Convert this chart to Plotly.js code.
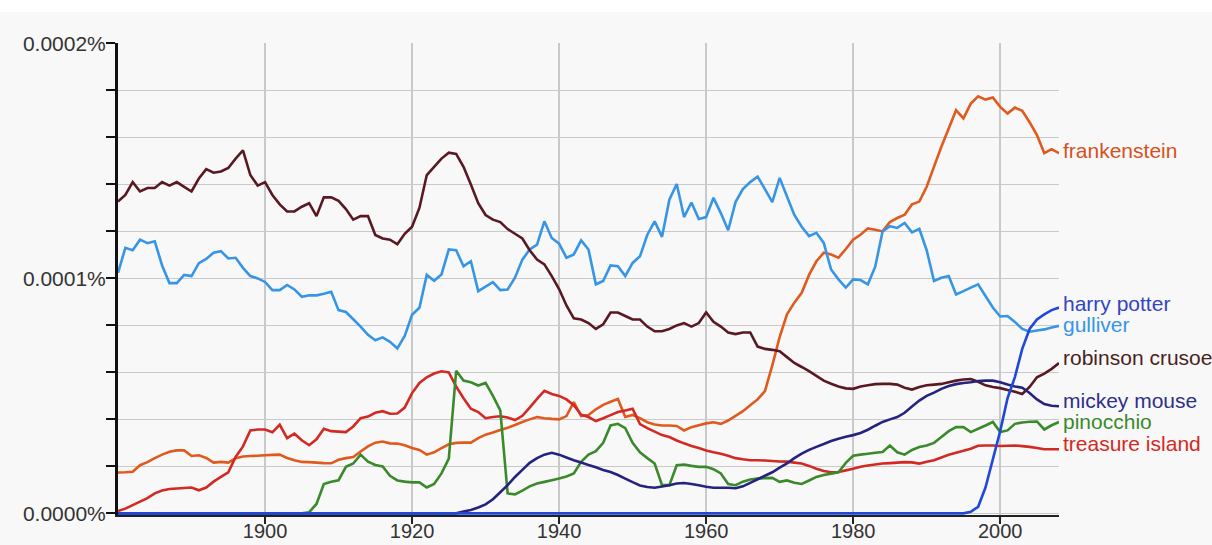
<!DOCTYPE html>
<html>
<head>
<meta charset="utf-8">
<script src="https://cdn.plot.ly/plotly-3.0.1.min.js"></script>
<style>
  html, body { margin: 0; padding: 0; background: #ffffff; }
  #chart { position: absolute; left: 0; top: 12px; width: 1212px; height: 533px; }
</style>
</head>
<body>
<div id="chart"></div>
<script>
// Values are in units of 0.000001 % (so 100 = 0.0001%, 200 = 0.0002%)
const startYear = 1880;
const years = Array.from({length: 129}, (_, i) => startYear + i);

const yTickVals = [0, 20, 40, 60, 80, 100, 120, 140, 160, 180, 200];
const yTickText = ['0.0000%', '', '', '', '', '0.0001%', '', '', '', '', '0.0002%'];
const xTickVals = [1900, 1920, 1940, 1960, 1980, 2000];

const frankenstein = [
  17.4,17.5,17.7,20.5,21.8,23.5,25,26.2,26.8,26.8,
  24.4,24.7,23.6,21.6,21.9,21.6,23.5,24.2,24.4,24.5,
  24.7,24.9,25,23.6,22.6,21.9,21.8,21.6,21.4,21.3,
  22.8,23.5,24,26.3,28.5,30.1,30.6,29.8,29.7,29,
  27.8,27,25,26,27.8,29.4,30,30.1,30.1,32,
  33.5,34.4,35.5,36.4,37.6,38.9,40,41,40.5,40.2,
  40,41.4,47.3,41.4,41.9,44.3,46.2,47.5,48.7,41,
  41.9,40.5,38.8,37.8,37.4,37.4,37.2,35.3,36.7,37.5,
  38.3,38.8,38.1,39.5,41.5,43.5,46,48.5,52,63,
  75,84.7,89.7,93.9,101.5,107.3,110.9,110.2,108.8,112.5,
  116.5,118.6,121.3,120.7,120,124,125.7,127.1,131.5,132.7,
  139,147.6,156,163.8,171.6,168.1,174.4,177.5,176.1,177,
  173,170.2,172.7,171.3,166.5,161,153.3,155,153.3
];

const harryPotter = [
  0,0,0,0,0,0,0,0,0,0, 0,0,0,0,0,0,0,0,0,0,
  0,0,0,0,0,0,0,0,0,0, 0,0,0,0,0,0,0,0,0,0,
  0,0,0,0,0,0,0,0,0,0, 0,0,0,0,0,0,0,0,0,0,
  0,0,0,0,0,0,0,0,0,0, 0,0,0,0,0,0,0,0,0,0,
  0,0,0,0,0,0,0,0,0,0, 0,0,0,0,0,0,0,0,0,0,
  0,0,0,0,0,0,0,0,0,0, 0,0,0,0,0,0,0.7,2.8,11,23,
  35,49,58,70,78.5,82.5,84.7,86.5,87.6
];

const gulliver = [
  102.4,113,112,116.5,115,115.8,105.5,98,98,101.5,
  101,106.5,108.3,110.9,111.6,108.5,108.8,104.5,101,100,
  98.5,95,95,97.2,95.3,92.2,92.8,92.8,93.5,94.3,
  86.5,85.7,82.6,79.5,76,73.7,74.9,73,70.2,75.5,
  84.5,87.5,101.5,99,101.7,112.3,112,105.2,107.3,94.6,
  96.5,98.4,95,95.3,100.3,108,112.3,114.4,124.3,117.2,
  114.8,108.8,110.2,116.2,112.3,97.5,98.9,105.5,105.2,101,
  106.6,109.4,118.6,124.3,117.7,133.5,140.2,126.1,132.3,125.3,
  126.1,134.3,127.8,120.5,132.5,138,141,143.3,138,132.5,
  142.8,134.9,127,122,118,119.4,115.1,103.8,99.6,96.1,
  99.6,99.3,97.5,105,120,122.2,121.5,123.6,119.6,121.1,
  112,98.9,100.3,101,93.2,94.6,96.1,97.5,92.5,87.6,
  83.8,84,81.5,78.5,77.3,77.8,78.3,79.1,79.8
];

const robinsonCrusoe = [
  132.7,135.5,141,137,138.5,138.5,141,139.5,141,139,
  137,142.5,146.5,145,145.5,147,151,154.5,144,139.5,
  141,135.5,131.5,128.5,128.5,130.5,132,126.5,134.5,134.5,
  133,129.5,125,126.5,126.5,118.5,117,116.5,114.5,119,
  122,130,144,147.5,151,153.5,153,147.5,140,132,
  127,125,124,121,119,117,112,108,106,101,
  95.5,88.5,83,82.5,81,78.5,80.5,85.5,85.5,84,
  82.5,82.5,79.5,77.5,77.5,78.5,80,81,79.5,81,
  85.5,81.5,79.5,77,76.3,77,77,71,70,69.6,
  69,66.5,64,62.3,60.5,58.5,56.5,55.2,54,53.2,
  53,54,54.5,55,55.1,55.1,54.8,53.5,52.7,53.8,
  54.5,54.8,55.1,55.8,56.5,57,57.2,56,54.5,53.8,
  53.3,52.5,51.8,50.8,53.8,57.9,59.5,61.5,64
];

const mickeyMouse = [
  0,0,0,0,0,0,0,0,0,0, 0,0,0,0,0,0,0,0,0,0,
  0,0,0,0,0,0,0,0,0,0, 0,0,0,0,0,0,0,0,0,0,
  0,0,0,0,0,0,0,0.8,1.4,2.5,
  3.8,6,9,12,15.5,18.5,21.5,23.5,25,25.8,
  25,23.8,22.6,21.6,20.6,19.6,18.5,17.6,16.3,14.8,
  13.3,11.9,11.2,10.9,11.4,12,12.7,12.9,12.5,12,
  11.3,10.9,10.9,10.9,10.7,11.5,13,14.5,16,17.5,
  19.5,21.3,23.5,25.4,27,28.3,29.5,30.8,31.8,32.6,
  33.3,34.2,35.6,37.3,38.9,40,41,42.8,45.5,48,
  50,51.4,53,54.2,55,55.5,55.8,56.3,56.5,56.5,
  55.8,54.8,54,53.5,51.2,48.5,46.5,45.8,45.6
];

const pinocchio = [
  0,0,0,0,0,0,0,0,0,0, 0,0,0,0,0,0,0,0,0,0,
  0,0,0,0,0,0,0.5,4,12.5,13.5,
  14.1,19.8,21.2,25,22,20.6,20,16,14,13.5,
  13.2,13.2,11,12.5,17,23.3,60.7,56.5,55.8,54.4,
  55.5,50,43.8,8.5,8.1,9.7,11.5,12.7,13.4,14.1,
  14.8,15.7,17,21.9,25,26.5,30,37.4,38.1,36.3,
  30,26,23.5,21.2,12,12,20.5,20.8,20.2,19.8,
  19.8,18.8,17,12.5,12,13.5,14.4,14.8,15,15.1,
  13.4,14,13,12.5,14,15.5,16.3,16.9,17.5,21.5,
  24.5,25,25.4,25.8,26.1,28.9,26,25,27,28.2,
  28.9,30,32.5,35,36.7,36.7,34.6,36,37.4,38.9,
  34.6,35.3,38.1,38.7,39,39.1,35.7,37.5,38.9
];

const treasureIsland = [
  1,2,3.5,5,6.5,8.5,9.7,10.4,10.6,10.8,
  11,9.8,11,13.5,15.5,17.5,24,28.5,35.3,35.7,
  35.7,34.5,37.7,32,33.9,31.1,29,31.5,36,35,
  34.8,34.6,37,40.5,41.2,42.8,43.5,42.4,42.5,45,
  51.2,55.5,57.9,59.5,60.5,60,54,49,44.5,43.1,
  40.5,41,41.3,40.8,39.7,41.5,45,48.7,52.2,50.8,
  50,48.5,46,42,41,39.3,40.5,41.8,43.1,43.8,
  44.5,38,36.3,34.8,33.3,32.5,31,29.8,28.7,27.8,
  26.8,26,25.4,24.5,23.5,23,22.6,22.6,22.5,22.3,
  22.1,22,21.6,21.2,20.2,19,18,17.5,17.6,18.3,
  19,19.8,20.4,20.8,21.2,21.4,21.6,21.8,21.7,21.2,
  22,22.6,23.8,24.9,25.8,26.6,27.5,28.8,28.9,28.9,
  28.7,28.8,28.9,28.6,28.3,27.8,27.3,27.3,27.3
];

// Series, in drawing order, with their colours and label offsets (px)
const series = [
  {name: 'frankenstein',    values: frankenstein,   color: '#e0591d', labelColor: '#d4521c', yshift: 3},
  {name: 'gulliver',        values: gulliver,       color: '#3795e6', labelColor: '#3795e6', yshift: 1},
  {name: 'robinson crusoe', values: robinsonCrusoe, color: '#5a1822', labelColor: '#4a1f22', yshift: 5},
  {name: 'treasure island', values: treasureIsland, color: '#d22a22', labelColor: '#d22a22', yshift: 6},
  {name: 'pinocchio',       values: pinocchio,      color: '#3a8a2b', labelColor: '#3a8a2b', yshift: 0},
  {name: 'mickey mouse',    values: mickeyMouse,    color: '#24247f', labelColor: '#2f2f8c', yshift: 6},
  {name: 'harry potter',    values: harryPotter,    color: '#2148d8', labelColor: '#3344c4', yshift: 4}
];

const traces = series.map(s => ({
  type: 'scatter',
  mode: 'lines',
  name: s.name,
  x: years,
  y: s.values,
  line: {color: s.color, width: 2.6, simplify: false},
  hoverinfo: 'skip'
}));

const annotations = series.map(s => ({
  xref: 'x', yref: 'y',
  x: years[years.length - 1],
  y: s.values[s.values.length - 1],
  text: s.name,
  showarrow: false,
  xanchor: 'left',
  yanchor: 'middle',
  xshift: 2,
  yshift: s.yshift,
  font: {family: 'Liberation Sans, Arial, sans-serif', size: 21, color: s.labelColor}
}));

const layout = {
  width: 1212,
  height: 533,
  margin: {l: 118, r: 153, t: 31, b: 30, pad: 0},
  paper_bgcolor: '#f8f8f8',
  plot_bgcolor: '#f8f8f8',
  showlegend: false,
  font: {family: 'Liberation Sans, Arial, sans-serif', size: 21, color: '#333333'},
  xaxis: {
    range: [1880, 2008],
    tickmode: 'array',
    tickvals: xTickVals,
    ticks: 'outside',
    ticklen: 7,
    tickwidth: 2,
    tickcolor: '#222222',
    ticklabelstandoff: -10,
    showline: true,
    linecolor: '#222222',
    linewidth: 2,
    showgrid: true,
    gridcolor: '#c9c9c9',
    gridwidth: 1.5,
    zeroline: false,
    layer: 'below traces',
    tickfont: {size: 20, color: '#333333'},
    fixedrange: true
  },
  yaxis: {
    range: [-0.7, 200.2],
    tickmode: 'array',
    tickvals: yTickVals,
    ticktext: yTickText,
    ticks: 'outside',
    ticklen: 9,
    tickwidth: 2,
    tickcolor: '#111111',
    ticklabelstandoff: -4,
    showline: true,
    linecolor: '#111111',
    linewidth: 3,
    showgrid: true,
    gridcolor: '#c9c9c9',
    gridwidth: 1.5,
    zeroline: false,
    layer: 'below traces',
    tickfont: {size: 21, color: '#333333'},
    fixedrange: true
  },
  annotations: annotations
};

Plotly.newPlot('chart', traces, layout, {displayModeBar: false, staticPlot: true});
</script>
</body>
</html>
